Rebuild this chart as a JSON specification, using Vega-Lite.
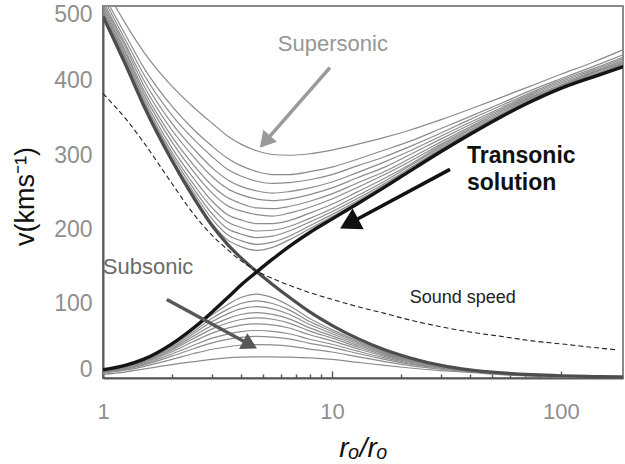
{
"$schema":"https://vega.github.io/schema/vega-lite/v6.json",
"width":520,"height":372,
"autosize":{"type":"none"},
"padding":{"left":103,"top":6,"right":2,"bottom":86},
"background":"white",
"config":{"font":"Liberation Sans","view":{"stroke":"#8a8a8a","strokeWidth":2},"axis":{"grid":false}},
"datasets":{
"fam":[
{"s":"S0","r":1,"v":530},{"s":"S0","r":1.25,"v":478},{"s":"S0","r":1.5,"v":440},{"s":"S0","r":2,"v":393},{"s":"S0","r":2.5,"v":364},{"s":"S0","r":3,"v":343},{"s":"S0","r":3.5,"v":326},{"s":"S0","r":4,"v":315},{"s":"S0","r":4.7,"v":306},{"s":"S0","r":5.5,"v":301},{"s":"S0","r":6.5,"v":300},{"s":"S0","r":8,"v":302},{"s":"S0","r":10,"v":307},{"s":"S0","r":13,"v":315},{"s":"S0","r":17,"v":324},{"s":"S0","r":22,"v":334},{"s":"S0","r":30,"v":348},{"s":"S0","r":40,"v":362},{"s":"S0","r":55,"v":378},{"s":"S0","r":75,"v":394},{"s":"S0","r":100,"v":409},{"s":"S0","r":140,"v":426},{"s":"S0","r":190,"v":443},
{"s":"S1","r":1,"v":517},{"s":"S1","r":1.25,"v":463},{"s":"S1","r":1.5,"v":419},{"s":"S1","r":2,"v":366},{"s":"S1","r":2.5,"v":334},{"s":"S1","r":3,"v":312},{"s":"S1","r":3.5,"v":296},{"s":"S1","r":4,"v":286},{"s":"S1","r":4.7,"v":278},{"s":"S1","r":5.5,"v":274},{"s":"S1","r":6.5,"v":274},{"s":"S1","r":8,"v":278},{"s":"S1","r":10,"v":284},{"s":"S1","r":13,"v":295},{"s":"S1","r":17,"v":307},{"s":"S1","r":22,"v":319},{"s":"S1","r":30,"v":336},{"s":"S1","r":40,"v":352},{"s":"S1","r":55,"v":370},{"s":"S1","r":75,"v":388},{"s":"S1","r":100,"v":403},{"s":"S1","r":140,"v":420},{"s":"S1","r":190,"v":436},
{"s":"S2","r":1,"v":512},{"s":"S2","r":1.25,"v":456},{"s":"S2","r":1.5,"v":410},{"s":"S2","r":2,"v":354},{"s":"S2","r":2.5,"v":321},{"s":"S2","r":3,"v":298},{"s":"S2","r":3.5,"v":281},{"s":"S2","r":4,"v":272},{"s":"S2","r":4.7,"v":265},{"s":"S2","r":5.5,"v":262},{"s":"S2","r":6.5,"v":263},{"s":"S2","r":8,"v":267},{"s":"S2","r":10,"v":274},{"s":"S2","r":13,"v":286},{"s":"S2","r":17,"v":298},{"s":"S2","r":22,"v":312},{"s":"S2","r":30,"v":330},{"s":"S2","r":40,"v":348},{"s":"S2","r":55,"v":367},{"s":"S2","r":75,"v":385},{"s":"S2","r":100,"v":401},{"s":"S2","r":140,"v":417},{"s":"S2","r":190,"v":433},
{"s":"S3","r":1,"v":507},{"s":"S3","r":1.25,"v":450},{"s":"S3","r":1.5,"v":402},{"s":"S3","r":2,"v":343},{"s":"S3","r":2.5,"v":308},{"s":"S3","r":3,"v":283},{"s":"S3","r":3.5,"v":267},{"s":"S3","r":4,"v":258},{"s":"S3","r":4.7,"v":252},{"s":"S3","r":5.5,"v":249},{"s":"S3","r":6.5,"v":251},{"s":"S3","r":8,"v":256},{"s":"S3","r":10,"v":264},{"s":"S3","r":13,"v":277},{"s":"S3","r":17,"v":291},{"s":"S3","r":22,"v":306},{"s":"S3","r":30,"v":326},{"s":"S3","r":40,"v":344},{"s":"S3","r":55,"v":364},{"s":"S3","r":75,"v":383},{"s":"S3","r":100,"v":399},{"s":"S3","r":140,"v":415},{"s":"S3","r":190,"v":431},
{"s":"S4","r":1,"v":503},{"s":"S4","r":1.25,"v":446},{"s":"S4","r":1.5,"v":395},{"s":"S4","r":2,"v":334},{"s":"S4","r":2.5,"v":297},{"s":"S4","r":3,"v":271},{"s":"S4","r":3.5,"v":255},{"s":"S4","r":4,"v":247},{"s":"S4","r":4.7,"v":241},{"s":"S4","r":5.5,"v":239},{"s":"S4","r":6.5,"v":241},{"s":"S4","r":8,"v":247},{"s":"S4","r":10,"v":256},{"s":"S4","r":13,"v":270},{"s":"S4","r":17,"v":284},{"s":"S4","r":22,"v":301},{"s":"S4","r":30,"v":322},{"s":"S4","r":40,"v":341},{"s":"S4","r":55,"v":362},{"s":"S4","r":75,"v":381},{"s":"S4","r":100,"v":397},{"s":"S4","r":140,"v":413},{"s":"S4","r":190,"v":429},
{"s":"S5","r":1,"v":500},{"s":"S5","r":1.25,"v":441},{"s":"S5","r":1.5,"v":389},{"s":"S5","r":2,"v":325},{"s":"S5","r":2.5,"v":286},{"s":"S5","r":3,"v":259},{"s":"S5","r":3.5,"v":243},{"s":"S5","r":4,"v":235},{"s":"S5","r":4.7,"v":229},{"s":"S5","r":5.5,"v":228},{"s":"S5","r":6.5,"v":231},{"s":"S5","r":8,"v":238},{"s":"S5","r":10,"v":248},{"s":"S5","r":13,"v":263},{"s":"S5","r":17,"v":278},{"s":"S5","r":22,"v":296},{"s":"S5","r":30,"v":318},{"s":"S5","r":40,"v":338},{"s":"S5","r":55,"v":360},{"s":"S5","r":75,"v":379},{"s":"S5","r":100,"v":395},{"s":"S5","r":140,"v":412},{"s":"S5","r":190,"v":427},
{"s":"S6","r":1,"v":497},{"s":"S6","r":1.25,"v":438},{"s":"S6","r":1.5,"v":384},{"s":"S6","r":2,"v":318},{"s":"S6","r":2.5,"v":277},{"s":"S6","r":3,"v":249},{"s":"S6","r":3.5,"v":232},{"s":"S6","r":4,"v":225},{"s":"S6","r":4.7,"v":220},{"s":"S6","r":5.5,"v":218},{"s":"S6","r":6.5,"v":222},{"s":"S6","r":8,"v":230},{"s":"S6","r":10,"v":241},{"s":"S6","r":13,"v":257},{"s":"S6","r":17,"v":274},{"s":"S6","r":22,"v":292},{"s":"S6","r":30,"v":315},{"s":"S6","r":40,"v":336},{"s":"S6","r":55,"v":358},{"s":"S6","r":75,"v":378},{"s":"S6","r":100,"v":394},{"s":"S6","r":140,"v":411},{"s":"S6","r":190,"v":425},
{"s":"S7","r":1,"v":494},{"s":"S7","r":1.25,"v":434},{"s":"S7","r":1.5,"v":379},{"s":"S7","r":2,"v":310},{"s":"S7","r":2.5,"v":268},{"s":"S7","r":3,"v":238},{"s":"S7","r":3.5,"v":220},{"s":"S7","r":4,"v":213},{"s":"S7","r":4.7,"v":208},{"s":"S7","r":5.5,"v":208},{"s":"S7","r":6.5,"v":212},{"s":"S7","r":8,"v":222},{"s":"S7","r":10,"v":234},{"s":"S7","r":13,"v":251},{"s":"S7","r":17,"v":269},{"s":"S7","r":22,"v":288},{"s":"S7","r":30,"v":313},{"s":"S7","r":40,"v":334},{"s":"S7","r":55,"v":356},{"s":"S7","r":75,"v":376},{"s":"S7","r":100,"v":393},{"s":"S7","r":140,"v":409},{"s":"S7","r":190,"v":424},
{"s":"S8","r":1,"v":492},{"s":"S8","r":1.25,"v":432},{"s":"S8","r":1.5,"v":375},{"s":"S8","r":2,"v":304},{"s":"S8","r":2.5,"v":260},{"s":"S8","r":3,"v":229},{"s":"S8","r":3.5,"v":210},{"s":"S8","r":4,"v":203},{"s":"S8","r":4.7,"v":198},{"s":"S8","r":5.5,"v":199},{"s":"S8","r":6.5,"v":204},{"s":"S8","r":8,"v":215},{"s":"S8","r":10,"v":228},{"s":"S8","r":13,"v":246},{"s":"S8","r":17,"v":265},{"s":"S8","r":22,"v":286},{"s":"S8","r":30,"v":311},{"s":"S8","r":40,"v":332},{"s":"S8","r":55,"v":355},{"s":"S8","r":75,"v":376},{"s":"S8","r":100,"v":392},{"s":"S8","r":140,"v":408},{"s":"S8","r":190,"v":423},
{"s":"S9","r":1,"v":491},{"s":"S9","r":1.25,"v":430},{"s":"S9","r":1.5,"v":372},{"s":"S9","r":2,"v":300},{"s":"S9","r":2.5,"v":254},{"s":"S9","r":3,"v":221},{"s":"S9","r":3.5,"v":201},{"s":"S9","r":4,"v":194},{"s":"S9","r":4.7,"v":189},{"s":"S9","r":5.5,"v":191},{"s":"S9","r":6.5,"v":198},{"s":"S9","r":8,"v":210},{"s":"S9","r":10,"v":224},{"s":"S9","r":13,"v":242},{"s":"S9","r":17,"v":262},{"s":"S9","r":22,"v":283},{"s":"S9","r":30,"v":309},{"s":"S9","r":40,"v":331},{"s":"S9","r":55,"v":354},{"s":"S9","r":75,"v":375},{"s":"S9","r":100,"v":392},{"s":"S9","r":140,"v":408},{"s":"S9","r":190,"v":422},
{"s":"S10","r":1,"v":489},{"s":"S10","r":1.25,"v":428},{"s":"S10","r":1.5,"v":370},{"s":"S10","r":2,"v":296},{"s":"S10","r":2.5,"v":249},{"s":"S10","r":3,"v":214},{"s":"S10","r":3.5,"v":193},{"s":"S10","r":4,"v":185},{"s":"S10","r":4.7,"v":180},{"s":"S10","r":5.5,"v":183},{"s":"S10","r":6.5,"v":191},{"s":"S10","r":8,"v":205},{"s":"S10","r":10,"v":220},{"s":"S10","r":13,"v":239},{"s":"S10","r":17,"v":260},{"s":"S10","r":22,"v":282},{"s":"S10","r":30,"v":308},{"s":"S10","r":40,"v":330},{"s":"S10","r":55,"v":353},{"s":"S10","r":75,"v":374},{"s":"S10","r":100,"v":391},{"s":"S10","r":140,"v":407},{"s":"S10","r":190,"v":421},
{"s":"S11","r":1,"v":488},{"s":"S11","r":1.25,"v":427},{"s":"S11","r":1.5,"v":368},{"s":"S11","r":2,"v":293},{"s":"S11","r":2.5,"v":245},{"s":"S11","r":3,"v":208},{"s":"S11","r":3.5,"v":186},{"s":"S11","r":4,"v":177},{"s":"S11","r":4.7,"v":172},{"s":"S11","r":5.5,"v":176},{"s":"S11","r":6.5,"v":186},{"s":"S11","r":8,"v":201},{"s":"S11","r":10,"v":217},{"s":"S11","r":13,"v":237},{"s":"S11","r":17,"v":258},{"s":"S11","r":22,"v":280},{"s":"S11","r":30,"v":307},{"s":"S11","r":40,"v":329},{"s":"S11","r":55,"v":353},{"s":"S11","r":75,"v":374},{"s":"S11","r":100,"v":391},{"s":"S11","r":140,"v":407},{"s":"S11","r":190,"v":421},
{"s":"B0","r":1,"v":10.6},{"s":"B0","r":1.25,"v":16.4},{"s":"B0","r":1.5,"v":24.1},{"s":"B0","r":2,"v":44.8},{"s":"B0","r":2.5,"v":65.9},{"s":"B0","r":3,"v":85},{"s":"B0","r":3.5,"v":98.8},{"s":"B0","r":4,"v":108.4},{"s":"B0","r":4.7,"v":113},{"s":"B0","r":5.5,"v":108.2},{"s":"B0","r":6.5,"v":97.6},{"s":"B0","r":8,"v":80},{"s":"B0","r":10,"v":65.1},{"s":"B0","r":13,"v":49.6},{"s":"B0","r":17,"v":35.5},{"s":"B0","r":22,"v":25.1},{"s":"B0","r":30,"v":16.5},{"s":"B0","r":40,"v":10.8},{"s":"B0","r":55,"v":6.9},{"s":"B0","r":75,"v":4.4},{"s":"B0","r":100,"v":2.9},{"s":"B0","r":190,"v":1.4},
{"s":"B1","r":1,"v":10.3},{"s":"B1","r":1.25,"v":15.9},{"s":"B1","r":1.5,"v":23.4},{"s":"B1","r":2,"v":43.3},{"s":"B1","r":2.5,"v":63.1},{"s":"B1","r":3,"v":80.5},{"s":"B1","r":3.5,"v":92.4},{"s":"B1","r":4,"v":100.3},{"s":"B1","r":4.7,"v":104},{"s":"B1","r":5.5,"v":100.3},{"s":"B1","r":6.5,"v":91.7},{"s":"B1","r":8,"v":76},{"s":"B1","r":10,"v":62.6},{"s":"B1","r":13,"v":47.9},{"s":"B1","r":17,"v":34.5},{"s":"B1","r":22,"v":24.5},{"s":"B1","r":30,"v":16.2},{"s":"B1","r":40,"v":10.6},{"s":"B1","r":55,"v":6.8},{"s":"B1","r":75,"v":4.3},{"s":"B1","r":100,"v":2.8},{"s":"B1","r":190,"v":1.3},
{"s":"B2","r":1,"v":10},{"s":"B2","r":1.25,"v":15.5},{"s":"B2","r":1.5,"v":22.7},{"s":"B2","r":2,"v":41.7},{"s":"B2","r":2.5,"v":60.2},{"s":"B2","r":3,"v":76},{"s":"B2","r":3.5,"v":86.4},{"s":"B2","r":4,"v":93},{"s":"B2","r":4.7,"v":96},{"s":"B2","r":5.5,"v":93.1},{"s":"B2","r":6.5,"v":85.9},{"s":"B2","r":8,"v":72},{"s":"B2","r":10,"v":59.9},{"s":"B2","r":13,"v":46.1},{"s":"B2","r":17,"v":33.4},{"s":"B2","r":22,"v":23.8},{"s":"B2","r":30,"v":15.8},{"s":"B2","r":40,"v":10.4},{"s":"B2","r":55,"v":6.6},{"s":"B2","r":75,"v":4.2},{"s":"B2","r":100,"v":2.7},{"s":"B2","r":190,"v":1.2},
{"s":"B3","r":1,"v":9.6},{"s":"B3","r":1.25,"v":14.9},{"s":"B3","r":1.5,"v":21.9},{"s":"B3","r":2,"v":39.7},{"s":"B3","r":2.5,"v":56.8},{"s":"B3","r":3,"v":71},{"s":"B3","r":3.5,"v":79.9},{"s":"B3","r":4,"v":85.5},{"s":"B3","r":4.7,"v":88},{"s":"B3","r":5.5,"v":85.7},{"s":"B3","r":6.5,"v":79.7},{"s":"B3","r":8,"v":67.5},{"s":"B3","r":10,"v":56.8},{"s":"B3","r":13,"v":44},{"s":"B3","r":17,"v":32.1},{"s":"B3","r":22,"v":23},{"s":"B3","r":30,"v":15.4},{"s":"B3","r":40,"v":10.2},{"s":"B3","r":55,"v":6.4},{"s":"B3","r":75,"v":4},{"s":"B3","r":100,"v":2.6},{"s":"B3","r":190,"v":1.1},
{"s":"B4","r":1,"v":9.2},{"s":"B4","r":1.25,"v":14.3},{"s":"B4","r":1.5,"v":21.1},{"s":"B4","r":2,"v":37.8},{"s":"B4","r":2.5,"v":53.5},{"s":"B4","r":3,"v":66.2},{"s":"B4","r":3.5,"v":74.1},{"s":"B4","r":4,"v":78.8},{"s":"B4","r":4.7,"v":81},{"s":"B4","r":5.5,"v":79.1},{"s":"B4","r":6.5,"v":74},{"s":"B4","r":8,"v":63.2},{"s":"B4","r":10,"v":53.8},{"s":"B4","r":13,"v":41.9},{"s":"B4","r":17,"v":30.8},{"s":"B4","r":22,"v":22.2},{"s":"B4","r":30,"v":14.9},{"s":"B4","r":40,"v":9.9},{"s":"B4","r":55,"v":6.2},{"s":"B4","r":75,"v":3.9},{"s":"B4","r":100,"v":2.5},{"s":"B4","r":190,"v":1},
{"s":"B5","r":1,"v":8.7},{"s":"B5","r":1.25,"v":13.6},{"s":"B5","r":1.5,"v":20},{"s":"B5","r":2,"v":35.4},{"s":"B5","r":2.5,"v":49.5},{"s":"B5","r":3,"v":60.5},{"s":"B5","r":3.5,"v":67.2},{"s":"B5","r":4,"v":71.2},{"s":"B5","r":4.7,"v":73},{"s":"B5","r":5.5,"v":71.5},{"s":"B5","r":6.5,"v":67.3},{"s":"B5","r":8,"v":58.2},{"s":"B5","r":10,"v":50.1},{"s":"B5","r":13,"v":39.3},{"s":"B5","r":17,"v":29.1},{"s":"B5","r":22,"v":21.2},{"s":"B5","r":30,"v":14.4},{"s":"B5","r":40,"v":9.6},{"s":"B5","r":55,"v":6},{"s":"B5","r":75,"v":3.7},{"s":"B5","r":100,"v":2.4},{"s":"B5","r":190,"v":0.9},
{"s":"B6","r":1,"v":8.1},{"s":"B6","r":1.25,"v":12.7},{"s":"B6","r":1.5,"v":18.7},{"s":"B6","r":2,"v":32.4},{"s":"B6","r":2.5,"v":44.5},{"s":"B6","r":3,"v":53.7},{"s":"B6","r":3.5,"v":59.2},{"s":"B6","r":4,"v":62.5},{"s":"B6","r":4.7,"v":64},{"s":"B6","r":5.5,"v":62.9},{"s":"B6","r":6.5,"v":59.6},{"s":"B6","r":8,"v":52.2},{"s":"B6","r":10,"v":45.5},{"s":"B6","r":13,"v":36.1},{"s":"B6","r":17,"v":27.1},{"s":"B6","r":22,"v":19.9},{"s":"B6","r":30,"v":13.6},{"s":"B6","r":40,"v":9.2},{"s":"B6","r":55,"v":5.7},{"s":"B6","r":75,"v":3.5},{"s":"B6","r":100,"v":2.2},{"s":"B6","r":190,"v":0.8},
{"s":"B7","r":1,"v":7.5},{"s":"B7","r":1.25,"v":11.7},{"s":"B7","r":1.5,"v":17.4},{"s":"B7","r":2,"v":29.5},{"s":"B7","r":2.5,"v":39.8},{"s":"B7","r":3,"v":47.4},{"s":"B7","r":3.5,"v":52},{"s":"B7","r":4,"v":54.7},{"s":"B7","r":4.7,"v":56},{"s":"B7","r":5.5,"v":55.1},{"s":"B7","r":6.5,"v":52.6},{"s":"B7","r":8,"v":46.7},{"s":"B7","r":10,"v":41.2},{"s":"B7","r":13,"v":33},{"s":"B7","r":17,"v":25.1},{"s":"B7","r":22,"v":18.6},{"s":"B7","r":30,"v":12.9},{"s":"B7","r":40,"v":8.8},{"s":"B7","r":55,"v":5.4},{"s":"B7","r":75,"v":3.3},{"s":"B7","r":100,"v":2},{"s":"B7","r":190,"v":0.7},
{"s":"B8","r":1,"v":6.6},{"s":"B8","r":1.25,"v":10.4},{"s":"B8","r":1.5,"v":15.4},{"s":"B8","r":2,"v":25.1},{"s":"B8","r":2.5,"v":33},{"s":"B8","r":3,"v":38.7},{"s":"B8","r":3.5,"v":42.1},{"s":"B8","r":4,"v":44.1},{"s":"B8","r":4.7,"v":45},{"s":"B8","r":5.5,"v":44.5},{"s":"B8","r":6.5,"v":42.9},{"s":"B8","r":8,"v":39},{"s":"B8","r":10,"v":35},{"s":"B8","r":13,"v":28.5},{"s":"B8","r":17,"v":22},{"s":"B8","r":22,"v":16.7},{"s":"B8","r":30,"v":11.8},{"s":"B8","r":40,"v":8.3},{"s":"B8","r":55,"v":5},{"s":"B8","r":75,"v":2.9},{"s":"B8","r":100,"v":1.8},{"s":"B8","r":190,"v":0.6},
{"s":"B9","r":1,"v":5},{"s":"B9","r":1.25,"v":8},{"s":"B9","r":1.5,"v":12},{"s":"B9","r":2,"v":18},{"s":"B9","r":2.5,"v":22},{"s":"B9","r":3,"v":25},{"s":"B9","r":3.5,"v":27},{"s":"B9","r":4,"v":28},{"s":"B9","r":4.7,"v":28.5},{"s":"B9","r":5.5,"v":28.5},{"s":"B9","r":6.5,"v":28},{"s":"B9","r":8,"v":27},{"s":"B9","r":10,"v":25},{"s":"B9","r":13,"v":21},{"s":"B9","r":17,"v":17},{"s":"B9","r":22,"v":13.5},{"s":"B9","r":30,"v":10},{"s":"B9","r":40,"v":7.5},{"s":"B9","r":55,"v":4.5},{"s":"B9","r":75,"v":2.5},{"s":"B9","r":100,"v":1.5},{"s":"B9","r":190,"v":0.5}
],
"dec":[
{"r":1,"v":487},{"r":1.25,"v":423},{"r":1.5,"v":368},{"r":2,"v":293},{"r":2.5,"v":242},{"r":3,"v":205},{"r":3.5,"v":180},{"r":4,"v":162},{"r":4.7,"v":143},{"r":5.5,"v":126},{"r":6.5,"v":109},{"r":8,"v":89},{"r":10,"v":71},{"r":13,"v":53},{"r":17,"v":38},{"r":22,"v":27},{"r":30,"v":17},{"r":40,"v":11},{"r":55,"v":7},{"r":75,"v":4.5},{"r":100,"v":3},{"r":140,"v":2},{"r":190,"v":1.5}
],
"acc":[
{"r":1,"v":11},{"r":1.25,"v":17},{"r":1.5,"v":25},{"r":2,"v":46},{"r":2.5,"v":68},{"r":3,"v":89},{"r":3.5,"v":108},{"r":4,"v":125},{"r":4.7,"v":143},{"r":5.5,"v":160},{"r":6.5,"v":177},{"r":8,"v":196},{"r":10,"v":214},{"r":13,"v":235},{"r":17,"v":257},{"r":22,"v":279},{"r":30,"v":305},{"r":40,"v":328},{"r":55,"v":352},{"r":75,"v":373},{"r":100,"v":390},{"r":140,"v":406},{"r":190,"v":420}
],
"snd":[
{"r":1,"v":383},{"r":1.25,"v":350},{"r":1.5,"v":318},{"r":2,"v":262},{"r":2.5,"v":220},{"r":3,"v":192},{"r":3.5,"v":173},{"r":4,"v":158},{"r":4.7,"v":144},{"r":5.5,"v":134},{"r":6.5,"v":125},{"r":8,"v":115},{"r":10,"v":106},{"r":13,"v":96},{"r":17,"v":87},{"r":22,"v":78},{"r":30,"v":69},{"r":40,"v":62},{"r":55,"v":56},{"r":75,"v":50},{"r":100,"v":46},{"r":140,"v":41},{"r":176,"v":38}
],
"arrows":[
{"k":"sup","r":9.8,"v":418,"r2":5.1,"v2":318},
{"k":"tra","r":32.8,"v":281,"r2":11.9,"v2":208},
{"k":"sub","r":1.9,"v":105.7,"r2":4.39,"v2":44.7}
]
},
"layer":[
{"data":{"name":"fam"},
 "mark":{"type":"line","clip":true,"color":"#8c8c8c","strokeWidth":1.2,"interpolate":"monotone"},
 "encoding":{
  "x":{"field":"r","type":"quantitative","scale":{"type":"log","domain":[1,187],"nice":false},
   "axis":{"orient":"bottom","values":[1,2,3,4,5,6,7,8,9,10,20,30,40,50,60,70,80,90,100],"format":"d","labelExpr":"datum.value == 1 || datum.value == 10 || datum.value == 100 ? datum.label : ''","ticks":true,"tickSize":{"condition":{"test":"datum.value == 1 || datum.value == 10 || datum.value == 100","value":-7},"value":-4},"tickColor":"#555555","tickWidth":1.4,"labelPadding":30,"labelFontSize":22,"labelColor":"#8f8f8f","labelFlush":false,"labelOverlap":false,"domain":true,"domainColor":"#5a5a5a","domainWidth":2,"title":"rₒ/rₒ","titleFontSize":28,"titleFontStyle":"italic","titleFontWeight":"normal","titleColor":"#111111","titleBaseline":"alphabetic","titleY":78}},
  "y":{"field":"v","type":"quantitative","scale":{"domain":[0,501],"nice":false,"zero":false},
   "axis":{"orient":"left","values":[0,100,200,300,400,500],"ticks":false,"labelPadding":11,"labelFontSize":23,"labelColor":"#8f8f8f","labelFlush":2,"labelFlushOffset":3,"domain":true,"domainColor":"#5a5a5a","domainWidth":2,"title":"v(kms⁻¹)","titleFontSize":27,"titleFontWeight":"normal","titleColor":"#111111","titleAngle":270,"titleBaseline":"alphabetic","titleAlign":"center","titleX":-70,"titleY":190}},
  "detail":{"field":"s"}
 }},
{"data":{"name":"dec"},
 "mark":{"type":"line","clip":true,"color":"#4d4d4d","strokeWidth":3.2,"interpolate":"monotone"},
 "encoding":{
  "x":{"field":"r","type":"quantitative","scale":{"type":"log","domain":[1,187],"nice":false}},
  "y":{"field":"v","type":"quantitative","scale":{"domain":[0,501],"nice":false,"zero":false}}
 }},
{"data":{"name":"acc"},
 "mark":{"type":"line","clip":true,"color":"#151515","strokeWidth":3.4,"interpolate":"monotone"},
 "encoding":{
  "x":{"field":"r","type":"quantitative","scale":{"type":"log","domain":[1,187],"nice":false}},
  "y":{"field":"v","type":"quantitative","scale":{"domain":[0,501],"nice":false,"zero":false}}
 }},
{"data":{"name":"snd"},
 "mark":{"type":"line","clip":true,"color":"#222222","strokeWidth":1.1,"strokeDash":[5,3],"interpolate":"monotone"},
 "encoding":{
  "x":{"field":"r","type":"quantitative","scale":{"type":"log","domain":[1,187],"nice":false}},
  "y":{"field":"v","type":"quantitative","scale":{"domain":[0,501],"nice":false,"zero":false}}
 }},
{"data":{"name":"arrows"},
 "mark":{"type":"rule","strokeWidth":3.5},
 "encoding":{
  "x":{"field":"r","type":"quantitative","scale":{"type":"log","domain":[1,187],"nice":false}},
  "x2":{"field":"r2"},
  "y":{"field":"v","type":"quantitative","scale":{"domain":[0,501],"nice":false,"zero":false}},
  "y2":{"field":"v2"},
  "color":{"field":"k","type":"nominal","scale":{"domain":["sup","tra","sub"],"range":["#9a9a9a","#111111","#585858"]},"legend":null}
 }},
{"data":{"values":[{"r":5.1,"v":318.2}]},
 "mark":{"type":"point","shape":"triangle-up","filled":true,"size":330,"angle":221,"color":"#9a9a9a","opacity":1},
 "encoding":{
  "x":{"field":"r","type":"quantitative","scale":{"type":"log","domain":[1,187],"nice":false}},
  "y":{"field":"v","type":"quantitative","scale":{"domain":[0,501],"nice":false,"zero":false}}
 }},
{"data":{"values":[{"r":11.89,"v":207.8}]},
 "mark":{"type":"point","shape":"triangle-up","filled":true,"size":560,"angle":242,"color":"#111111","opacity":1},
 "encoding":{
  "x":{"field":"r","type":"quantitative","scale":{"type":"log","domain":[1,187],"nice":false}},
  "y":{"field":"v","type":"quantitative","scale":{"domain":[0,501],"nice":false,"zero":false}}
 }},
{"data":{"values":[{"r":4.39,"v":44.7}]},
 "mark":{"type":"point","shape":"triangle-up","filled":true,"size":320,"angle":118,"color":"#585858","opacity":1},
 "encoding":{
  "x":{"field":"r","type":"quantitative","scale":{"type":"log","domain":[1,187],"nice":false}},
  "y":{"field":"v","type":"quantitative","scale":{"domain":[0,501],"nice":false,"zero":false}}
 }},
{"data":{"values":[{"t":"Supersonic","r":10.1,"v":450}]},
 "mark":{"type":"text","fontSize":22,"color":"#969696","align":"center","baseline":"middle"},
 "encoding":{
  "x":{"field":"r","type":"quantitative","scale":{"type":"log","domain":[1,187],"nice":false}},
  "y":{"field":"v","type":"quantitative","scale":{"domain":[0,501],"nice":false,"zero":false}},
  "text":{"field":"t"}
 }},
{"data":{"values":[{"t":"Transonic","r":38.9,"v":299.5},{"t":"solution","r":38.9,"v":262}]},
 "mark":{"type":"text","fontSize":23,"fontWeight":"bold","color":"#111111","align":"left","baseline":"middle"},
 "encoding":{
  "x":{"field":"r","type":"quantitative","scale":{"type":"log","domain":[1,187],"nice":false}},
  "y":{"field":"v","type":"quantitative","scale":{"domain":[0,501],"nice":false,"zero":false}},
  "text":{"field":"t"}
 }},
{"data":{"values":[{"t":"Subsonic","r":1.573,"v":149.4}]},
 "mark":{"type":"text","fontSize":22,"color":"#6a6a6a","align":"center","baseline":"middle"},
 "encoding":{
  "x":{"field":"r","type":"quantitative","scale":{"type":"log","domain":[1,187],"nice":false}},
  "y":{"field":"v","type":"quantitative","scale":{"domain":[0,501],"nice":false,"zero":false}},
  "text":{"field":"t"}
 }},
{"data":{"values":[{"t":"Sound speed","r":37.3,"v":108.3}]},
 "mark":{"type":"text","fontSize":18,"color":"#222222","align":"center","baseline":"middle"},
 "encoding":{
  "x":{"field":"r","type":"quantitative","scale":{"type":"log","domain":[1,187],"nice":false}},
  "y":{"field":"v","type":"quantitative","scale":{"domain":[0,501],"nice":false,"zero":false}},
  "text":{"field":"t"}
 }}
]
}
